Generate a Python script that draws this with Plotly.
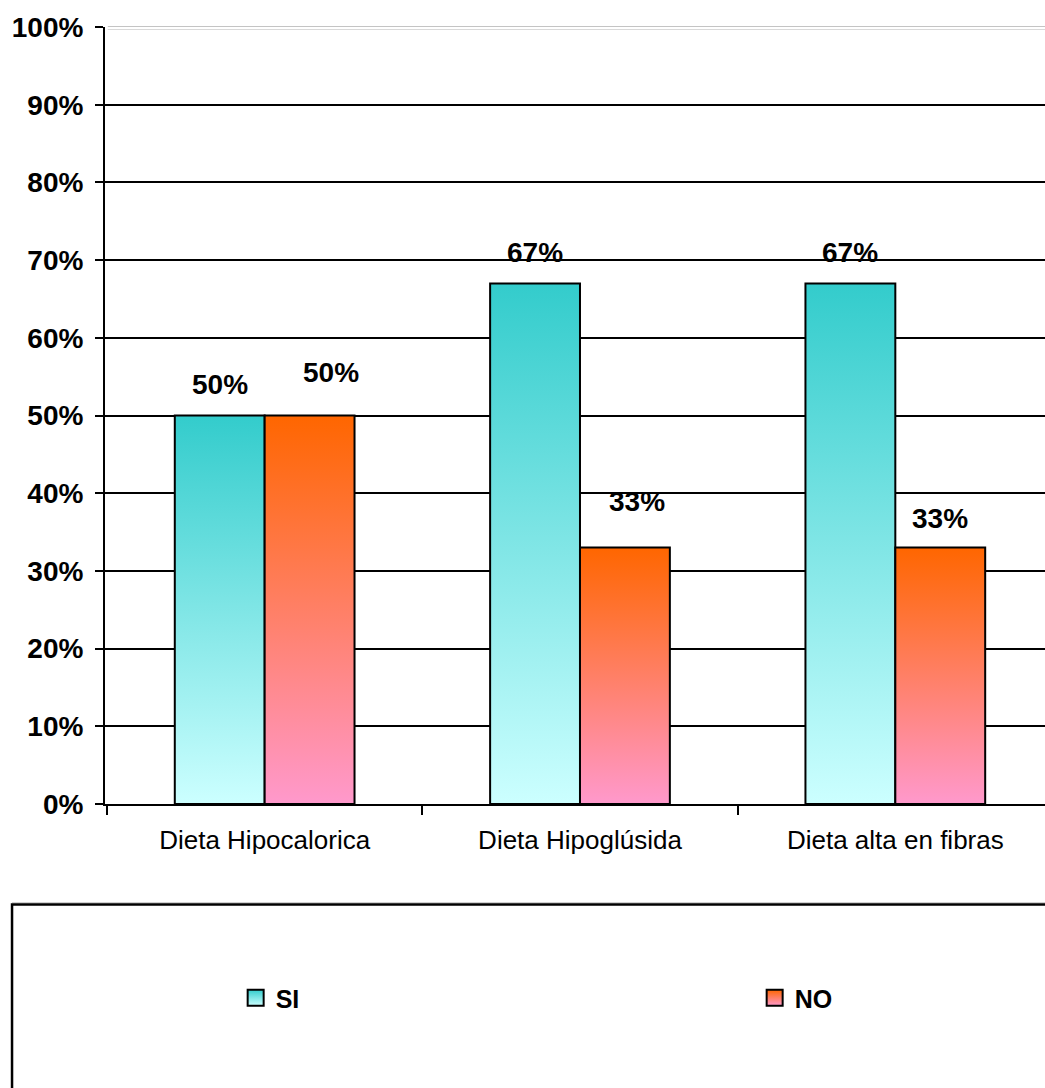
import plotly.graph_objects as go

# Data
categories = ["Dieta Hipocalorica", "Dieta Hipoglúsida", "Dieta alta en fibras"]
series_names = ["SI", "NO"]
si_values = [50, 67, 67]
no_values = [50, 33, 33]
y_ticks = [0, 10, 20, 30, 40, 50, 60, 70, 80, 90, 100]
y_tick_labels = [f"{t}%" for t in y_ticks]

# Styling
FONT = "Liberation Sans, Arial, sans-serif"
SI_TOP, SI_BOTTOM = "#33CCCC", "#CCFFFF"
NO_TOP, NO_BOTTOM = "#FF6600", "#FF99CC"
BAR_HALF = 0.285  # width of one bar in category units

# pixel nudges of the value labels (xshift, yshift), per series and category
label_shift = {
    "SI": [(0, 31), (0, 31), (0, 31)],
    "NO": [(21, 43), (12, 46), (0, 29)],
}

fig = go.Figure()

series = [
    ("SI", si_values, SI_TOP, SI_BOTTOM, -1, "legend", 0.139),
    ("NO", no_values, NO_TOP, NO_BOTTOM, 0, "legend2", 0.139 + 519 / 940),
]

annotations = []
for name, values, top, bottom, side, _, _ in series:
    for i, v in enumerate(values):
        left = i + side * BAR_HALF
        right = left + BAR_HALF
        fig.add_trace(go.Scatter(
            x=[left, left, right, right, left],
            y=[0, v, v, 0, 0],
            mode="lines",
            fill="toself",
            fillgradient=dict(
                type="vertical",
                colorscale=[[0, bottom], [1, top]],
                start=0,
                stop=v,
            ),
            line=dict(color="black", width=2),
            showlegend=False,
            hoveron="fills",
            hoverinfo="text",
            text=f"{name} – {categories[i]}: {v}%",
        ))
        dx, dy = label_shift[name][i]
        annotations.append(dict(
            x=left + BAR_HALF / 2, y=v, xref="x", yref="y",
            text=f"{v}%", showarrow=False,
            xshift=dx, yshift=dy,
            font=dict(family=FONT, size=28, color="black", weight="bold"),
        ))

# legend entries with gradient swatches, one legend box per series
legend_style = dict(
    orientation="h", xanchor="left", y=-0.2497, yanchor="middle",
    font=dict(family=FONT, size=25, color="black", weight="bold"),
    bgcolor="rgba(0,0,0,0)", borderwidth=0,
)
legends = {}
for name, _, top, bottom, _, legend_id, lx in series:
    fig.add_trace(go.Scatter(
        x=[None], y=[None], mode="markers", name=name, legend=legend_id,
        marker=dict(
            symbol="square", size=16, color=top,
            gradient=dict(type="vertical", color=bottom),
            line=dict(color="black", width=2),
        ),
    ))
    legends[legend_id] = dict(legend_style, x=lx)

shapes = [
    # light double rule at the top of the plot area
    dict(type="line", xref="paper", yref="paper", x0=0, x1=1,
         ysizemode="pixel", yanchor=1, y0=0, y1=0,
         line=dict(color="white", width=4), layer="above"),
    dict(type="line", xref="paper", yref="paper", x0=0.003, x1=1,
         ysizemode="pixel", yanchor=1, y0=0.5, y1=0.5,
         line=dict(color="#c4c4c4", width=1), layer="above"),
    dict(type="line", xref="paper", yref="paper", x0=0.003, x1=1,
         ysizemode="pixel", yanchor=1, y0=-2.5, y1=-2.5,
         line=dict(color="#d9d9d9", width=1), layer="above"),
    # legend frame with a faint shadow edge
    dict(type="line", xref="paper", yref="paper", x0=-0.0989, x1=1.05,
         y0=-0.1272, y1=-0.1272,
         line=dict(color="#d0d0d0", width=1.5)),
    dict(type="rect", xref="paper", yref="paper",
         x0=-0.0989, x1=1.05, y0=-0.1295, y1=-0.45,
         line=dict(color="black", width=2.5), fillcolor="rgba(0,0,0,0)"),
]

fig.update_layout(
    width=1045, height=1088,
    margin=dict(l=105, r=0, t=27, b=284),
    paper_bgcolor="white", plot_bgcolor="white",
    font=dict(family=FONT, color="black"),
    showlegend=True,
    **legends,
    xaxis=dict(
        range=[-0.5 - 2 / 316, -0.5 + 940 / 316],
        tickmode="array", tickvals=[0, 1, 2], ticktext=categories,
        ticks="", ticklabelstandoff=12,
        tickfont=dict(family=FONT, size=26, color="black"),
        showline=True, linecolor="black", linewidth=2,
        showgrid=False, zeroline=False,
        minor=dict(tickmode="array", tickvals=[-0.5, 0.5, 1.5, 2.5],
                   ticks="outside", ticklen=9, tickwidth=2,
                   tickcolor="black", showgrid=False),
    ),
    yaxis=dict(
        range=[0, 100],
        tickmode="array", tickvals=y_ticks, ticktext=y_tick_labels,
        ticks="outside", ticklen=8, tickwidth=2, tickcolor="black",
        ticklabelstandoff=6,
        tickfont=dict(family=FONT, size=28, color="black", weight="bold"),
        showline=True, linecolor="black", linewidth=2,
        showgrid=True, gridcolor="black", gridwidth=2,
        zeroline=False,
    ),
    annotations=annotations,
    shapes=shapes,
)

fig.write_html("out.html")
